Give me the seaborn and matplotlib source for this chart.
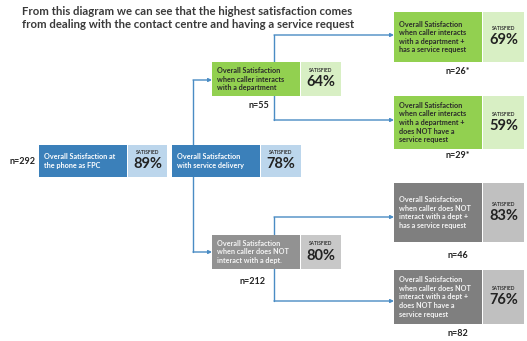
import matplotlib
matplotlib.use("Agg")
import matplotlib.pyplot as plt
from matplotlib.patches import Rectangle
import seaborn as sns

# --- DATA ---
title = ("From this diagram we can see that the highest satisfaction comes\n"
         "from dealing with the contact centre and having a service request")
node_labels = [
    "Overall Satisfaction at\nthe phone as FPC",
    "Overall Satisfaction\nwith service delivery",
    "Overall Satisfaction\nwhen caller interacts\nwith a department",
    "Overall Satisfaction\nwhen caller does NOT\ninteract with a dept.",
    "Overall Satisfaction\nwhen caller interacts\nwith a department +\nhas a service request",
    "Overall Satisfaction\nwhen caller interacts\nwith a department +\ndoes NOT have a\nservice request",
    "Overall Satisfaction\nwhen caller does NOT\ninteract with a dept +\nhas a service request",
    "Overall Satisfaction\nwhen caller does NOT\ninteract with a dept +\ndoes NOT have a\nservice request",
]
satisfied_pct = [89, 78, 64, 80, 69, 59, 83, 76]
n_labels = ["n=292", "", "n=55", "n=212", "n=26*", "n=29*", "n=46", "n=82"]

# --- LAYOUT (pixels, y down) ---
# x, y_top, height, dark width, light width
layout = [
    (39, 145, 32, 88, 39),
    (172, 145, 32, 88, 40),
    (212, 62, 34, 88, 40),
    (212, 235, 34, 88, 40),
    (394, 12, 50, 88, 41),
    (394, 96, 53, 88, 41),
    (394, 183, 59, 88, 41),
    (394, 270, 54, 88, 41),
]
dark_cols = ["#3b80ba", "#3b80ba", "#92d050", "#929292", "#92d050", "#92d050", "#7f7f7f", "#7f7f7f"]
light_cols = ["#bcd6ec", "#bcd6ec", "#d8efc4", "#c8c8c8", "#d8efc4", "#d8efc4", "#c0c0c0", "#c0c0c0"]
text_cols = ["white", "white", "#2b2b2b", "#f4f4f4", "#2b2b2b", "#2b2b2b", "#f4f4f4", "#f4f4f4"]
# n label positions
n_pos = [(36, 161, "right"), None, (259, 105, "center"), (253, 282, "center"),
         (458, 71, "center"), (458, 156, "center"), (458, 256, "center"), (458, 334, "center")]

LINE = "#4a8cc4"

sns.set_theme(style="white")
plt.rcParams['font.family'] = ['Lato', 'DejaVu Sans']

fig = plt.figure(figsize=(5.27, 3.41), dpi=100)
ax = fig.add_axes([0, 0, 1, 1])
ax.set_xlim(0, 527)
ax.set_ylim(341, 0)
ax.axis("off")

ax.text(22, 18, title, fontsize=8.2, fontweight="bold", color="#3a3a3a",
        va="center", ha="left", linespacing=1.2)

# connectors
ax.plot([193, 193], [80, 252], color=LINE, lw=1, zorder=1)
ax.plot([274, 274], [35, 120], color=LINE, lw=1, zorder=1)
ax.plot([274, 274], [217, 301], color=LINE, lw=1, zorder=1)
arrows = [(193, 80, 212), (193, 252, 212), (274, 35, 394), (274, 120, 394),
          (274, 217, 394), (274, 301, 394)]
for x0, y0, x1 in arrows:
    ax.annotate("", xy=(x1, y0), xytext=(x0, y0),
                arrowprops=dict(arrowstyle="-|>", color=LINE, lw=1,
                                mutation_scale=5, shrinkA=0, shrinkB=0),
                zorder=1)

for i, (x, y, h, wd, wl) in enumerate(layout):
    ax.add_patch(Rectangle((x, y), wd, h, facecolor=dark_cols[i], edgecolor="none", zorder=2))
    ax.add_patch(Rectangle((x + wd + 1, y), wl, h, facecolor=light_cols[i], edgecolor="none", zorder=2))
    ax.text(x + 5, y + h / 2, node_labels[i], fontsize=5.2, fontweight="bold",
            color=text_cols[i], ha="left", va="center", linespacing=1.25, zorder=3)
    cx = x + wd + 1 + wl / 2
    ax.text(cx, y + h / 2 - 8.5, "SATISFIED", fontsize=3.5, fontweight="bold",
            color="#333333", ha="center", va="center", zorder=3)
    ax.text(cx, y + h / 2 + 3.5, f"{satisfied_pct[i]}%", fontsize=10.5, fontweight="bold",
            color="#222222", ha="center", va="center", zorder=3)
    if n_pos[i] is not None:
        nx, ny, ha = n_pos[i]
        ax.text(nx, ny, n_labels[i], fontsize=6.5, fontweight="bold",
                color="#222222", ha=ha, va="center", zorder=3)

fig.savefig("out.png", dpi=100)
